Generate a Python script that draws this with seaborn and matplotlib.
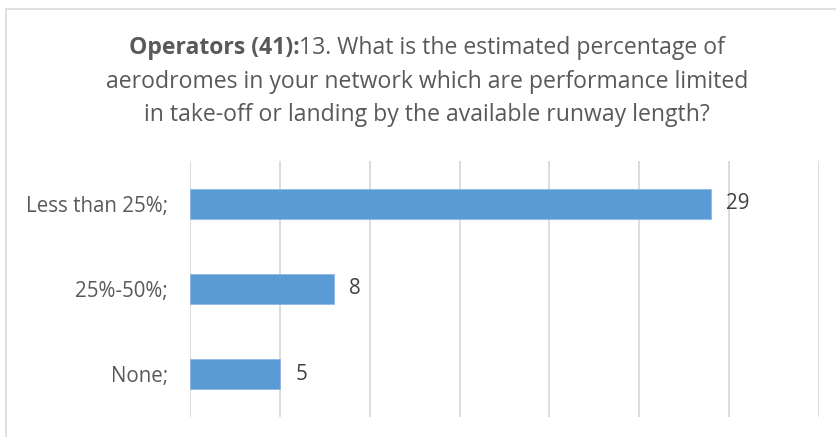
import pandas as pd
import matplotlib.pyplot as plt
import seaborn as sns
from matplotlib.patches import Rectangle

# Data
categories = ["Less than 25%;", "25%-50%;", "None;"]
counts = [29, 8, 5]
title_bold = "Operators (41):"
title_rest = "13. What is the estimated percentage of"
title_lines = ["aerodromes in your network which are performance limited",
               "in take-off or landing by the available runway length?"]

df = pd.DataFrame({"answer": categories, "count": counts})

sns.set_theme(style="white")
plt.rcParams['font.family'] = ['Open Sans', 'DejaVu Sans']
text_col = "#595959"

W, H = 837, 437
fig = plt.figure(figsize=(W / 100, H / 100), dpi=100)
ax = fig.add_axes([190 / W, (H - 417) / H, (819 - 190) / W, (417 - 161) / H])

sns.barplot(data=df, x="count", y="answer", orient="h", color="#5B9BD5",
            width=0.353, saturation=1, ax=ax, edgecolor="#8DB8E6", linewidth=0.6)

ax.set_xlim(0, 35)
ax.set_xticks(range(0, 36, 5))
ax.set_xticklabels([])
ax.grid(axis="x", color="#D9D9D9", linewidth=1.3)
ax.set_axisbelow(True)
for s in ax.spines.values():
    s.set_visible(False)
ax.set_xlabel("")
ax.set_ylabel("")
ax.tick_params(axis="y", length=0, pad=16, labelsize=14.8, labelcolor=text_col)
ax.tick_params(axis="x", length=0)

ax.bar_label(ax.containers[0], padding=11, fontsize=14.8, color="#404040")

# chart border
fig.patches.append(Rectangle((6 / W, -0.1), 1.2, (H - 9) / H + 0.1,
                             transform=fig.transFigure, fill=False,
                             edgecolor="#D9D9D9", linewidth=1.2))

# title: bold prefix + regular rest on first line
fs = 16.6
fig.canvas.draw()
r = fig.canvas.get_renderer()
t1 = fig.text(0, 0, title_bold, fontsize=fs, fontweight="bold", color=text_col)
t2 = fig.text(0, 0, title_rest, fontsize=fs, color=text_col)
w1 = t1.get_window_extent(r).width
w2 = t2.get_window_extent(r).width
cx = 427
x0 = cx - (w1 + w2) / 2
t1.set_position((x0 / W, 1 - 48 / H))
t2.set_position(((x0 + w1) / W, 1 - 48 / H))
t1.set_va("center")
t2.set_va("center")
for i, line in enumerate(title_lines):
    fig.text(cx / W, 1 - (82 + 33 * i) / H, line, fontsize=fs, color=text_col,
             ha="center", va="center")

fig.savefig("out.png", dpi=100)
